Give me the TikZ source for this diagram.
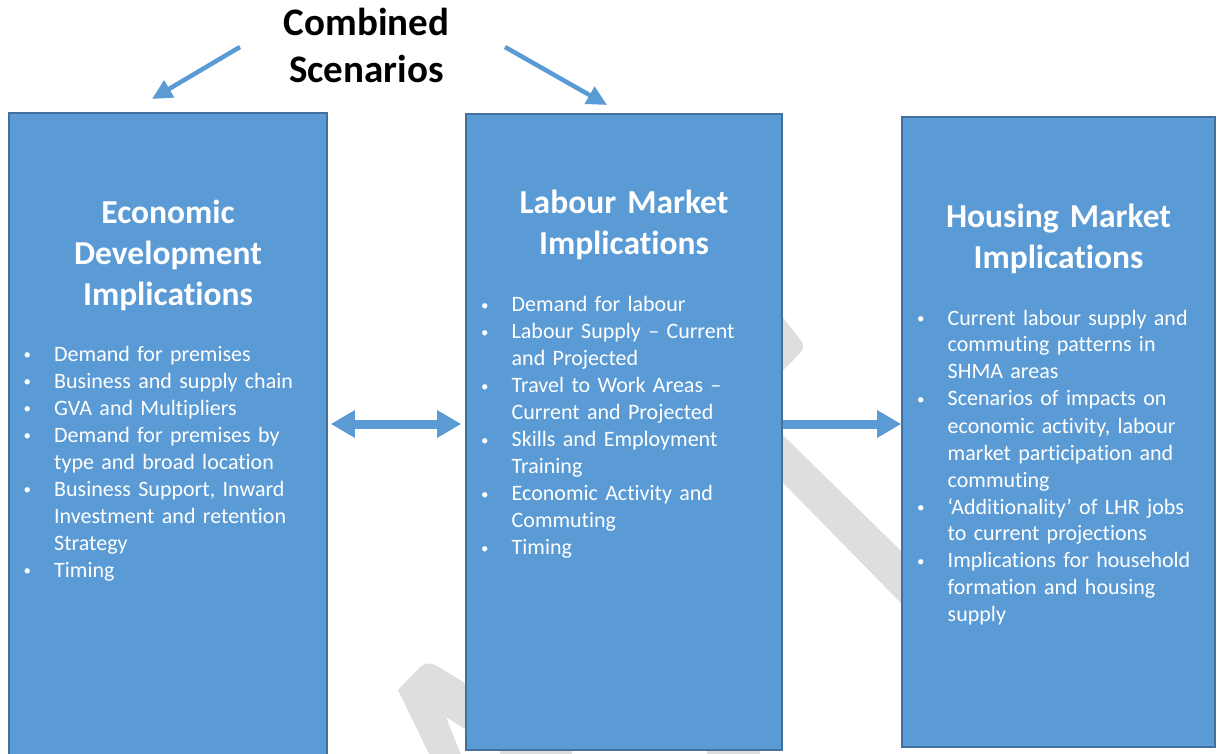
\documentclass[tikz,border=0pt]{standalone}
\usepackage{fontspec}
\setmainfont{Carlito}[Ligatures=NoCommon]
\usetikzlibrary{arrows.meta}

\definecolor{boxfill}{HTML}{5B9BD5}
\definecolor{boxline}{HTML}{41719C}
\definecolor{wmgrey}{HTML}{DEDEDE}

% one bulleted entry; the small bullet hangs to the left of the text column
\newcommand\bulletitem[1]{\par\noindent\llap{\raisebox{1.5pt}{\fontsize{15}{15}\selectfont\textbullet}\hspace{23pt}}#1}

\tikzset{
  panel/.style={draw=boxline, fill=boxfill, line width=1.6pt, inner sep=0pt},
  heading/.style={text=white, font=\fontsize{33.5}{41}\selectfont\bfseries,
    align=center, text width=300pt, anchor=base, inner sep=0pt},
  points/.style={text=white, font=\fontsize{22}{27}\selectfont,
    align=left, text width=275pt, anchor=base west, inner sep=0pt},
  toptitle/.style={text=black, font=\fontsize{39}{47}\selectfont\bfseries,
    align=center, text width=300pt, anchor=base, inner sep=0pt},
  thinarrow/.style={draw=boxfill, line width=4.5pt, -{Triangle[length=20pt,width=19pt]}},
  blockarrow/.style={draw=boxfill, line width=9pt},
  wm/.style={fill=wmgrey, draw=none},
}

\begin{document}
\begin{tikzpicture}[x=1pt, y=-1pt]
\useasboundingbox (0,0) rectangle (1218,754);
\fill[white] (0,0) rectangle (1218,754);

% faint watermark strokes behind the panels
\fill[wm] (740,393) -- (950,599) -- (950,653) -- (740,439) -- cycle;
\fill[wm, rounded corners=8pt] (760,288) -- (806,347) -- (760,394) -- cycle;
\fill[wm, rounded corners=10pt] (398,690) -- (427,660) -- (470,686) [sharp corners] -- (470,732) -- (446,717) -- (463,760) -- (432,760) -- cycle;
\fill[wm] (500,735) -- (572,735) -- (572,760) -- (500,760) -- cycle;
\fill[wm] (707,735) -- (760,735) -- (760,760) -- (707,760) -- cycle;

% the three panels
\node[panel, minimum width=318pt, minimum height=644pt] (eco) at (168,435) {};
\node[panel, minimum width=316pt, minimum height=636pt] (lab) at (624,432) {};
\node[panel, minimum width=313pt, minimum height=630pt] (hou) at (1058.5,432) {};

% headline above the panels
\node[toptitle] (combo) at (366.5,36) {Combined\\Scenarios};

% panel headings
\node[heading] (ecohead) at (168,223) {Economic\\Development\\Implications};
\node[heading] (labhead) at (624,214) {Labour Market\\Implications};
\node[heading] (houhead) at (1058.5,228) {Housing Market\\Implications};

% bullet lists (the node's base sits one line above the first entry)
\node[points] (ecolist) at (54,334) {%
  \bulletitem{Demand for premises}
  \bulletitem{Business and supply chain}
  \bulletitem{GVA and Multipliers}
  \bulletitem{Demand for premises by\newline type and broad location}
  \bulletitem{Business Support, Inward\newline Investment and retention\newline Strategy}
  \bulletitem{Timing}};

\node[points] (lablist) at (511.5,284.5) {%
  \bulletitem{Demand for labour}
  \bulletitem{Labour Supply – Current\newline and Projected}
  \bulletitem{Travel to Work Areas –\newline Current and Projected}
  \bulletitem{Skills and Employment\newline Training}
  \bulletitem{Economic Activity and\newline Commuting}
  \bulletitem{Timing}};

\node[points] (houlist) at (947.5,298) {%
  \bulletitem{Current labour supply and\newline commuting patterns in\newline SHMA areas}
  \bulletitem{Scenarios of impacts on\newline economic activity, labour\newline market participation and\newline commuting}
  \bulletitem{‘Additionality’ of LHR jobs\newline to current projections}
  \bulletitem{Implications for household\newline formation and housing\newline supply}};

% arrows from the headline down to the outer panels' tops
\coordinate (ltail) at (240,47);
\coordinate (lhead) at (152,99);
\coordinate (rtail) at (505,47);
\coordinate (rhead) at (607,105);
\draw[thinarrow] (ltail) -- (lhead);
\draw[thinarrow] (rtail) -- (rhead);

% links between the panels
\coordinate (row) at (0,424);
\draw[blockarrow, {Triangle[length=24pt,width=26pt]}-{Triangle[length=24pt,width=26pt]}]
  ([xshift=3pt]eco.east |- row) -- ([xshift=-4pt]lab.west |- row);
\draw[blockarrow, -{Triangle[length=24pt,width=26pt]}]
  (lab.east |- row) -- (hou.west |- row);
\end{tikzpicture}
\end{document}
